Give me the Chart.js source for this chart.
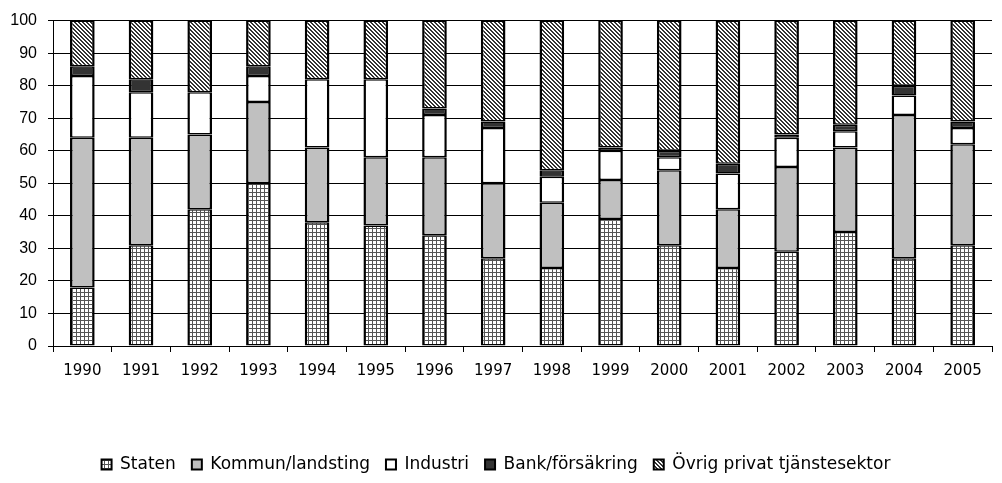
<!DOCTYPE html>
<html>
<head>
<meta charset="utf-8">
<script src="https://cdn.jsdelivr.net/npm/chart.js@4"></script>
<style>
html,body{margin:0;padding:0;background:#fff;}
#wrap{width:1002px;height:483px;position:relative;}
</style>
</head>
<body>
<div id="wrap"><canvas id="c" width="1002" height="483"></canvas></div>
<script>
const years = ['1990','1991','1992','1993','1994','1995','1996','1997','1998','1999','2000','2001','2002','2003','2004','2005'];
const seriesNames = ['Staten','Kommun/landsting','Industri','Bank/försäkring','Övrig privat tjänstesektor'];
const staten   = [18,31,42,50,38,37,34,27,24,39,31,24,29,35,27,31];
const kommun   = [46,33,23,25,23,21,24,23,20,12,23,18,26,26,44,31];
const industri = [19,14,13,8,21,24,13,17,8,9,4,11,9,5,6,5];
const bank     = [3,4,0,3,0,0,2,2,2,1,2,3,1,2,3,2];
const ovrig    = [14,18,22,14,18,18,27,31,46,39,40,44,35,32,20,31];
const yTicks   = [0,10,20,30,40,50,60,70,80,90,100];

function gridPattern(){
  const c = document.createElement('canvas'); c.width = 4; c.height = 4;
  const x = c.getContext('2d');
  x.fillStyle = '#fff'; x.fillRect(0,0,4,4);
  x.fillStyle = '#555'; x.fillRect(0,0,4,1); x.fillRect(0,0,1,4);
  return x.createPattern(c,'repeat');
}
function diagPattern(){
  const c = document.createElement('canvas'); c.width = 4; c.height = 4;
  const x = c.getContext('2d');
  x.fillStyle = '#fff'; x.fillRect(0,0,4,4);
  x.fillStyle = '#333';
  for(let i=0;i<4;i++){ for(let j=0;j<4;j++){ const d=((i-j)%4+4)%4; if(d===0||d===1) x.fillRect(i,j,1,1); } }
  return x.createPattern(c,'repeat');
}

const fills = [gridPattern(), '#c0c0c0', '#ffffff', '#333333', diagPattern()];
const values = [staten, kommun, industri, bank, ovrig];

const datasets = seriesNames.map((n,i)=>({
  label: n,
  data: values[i],
  backgroundColor: fills[i],
  borderColor: '#000',
  borderWidth: {left:2.5,right:2.5,top:1.5,bottom:1.5},
  borderSkipped: false,
  barPercentage: 0.42,
  categoryPercentage: 1.0
}));

const font = {family: '"Liberation Sans", Arial, sans-serif'};
const wideFont = {family: '"DejaVu Sans", sans-serif'};

new Chart(document.getElementById('c'), {
  type: 'bar',
  data: {labels: years, datasets},
  options: {
    responsive: false,
    animation: false,
    layout: {padding: {top: 15, right: 10, left: 0, bottom: 0}},
    plugins: {
      legend: {
        position: 'bottom',
        labels: {
          color: '#000',
          boxWidth: 10, boxHeight: 10,
          padding: 16,
          font: {...wideFont, size: 17}
        }
      },
      tooltip: {enabled: false}
    },
    scales: {
      x: {
        stacked: true,
        grid: {offset: true, drawOnChartArea: false, drawTicks: true, tickLength: 6, color: '#000'},
        border: {color: '#000', width: 1},
        ticks: {color: '#000', font: {...wideFont, size: 15}, padding: 10, maxRotation: 0},
        afterFit: s => { s.height = 94; }
      },
      y: {
        stacked: true,
        min: 0, max: 100,
        afterBuildTicks: s => { s.ticks = yTicks.map(v => ({value: v})); },
        grid: {color: '#000', lineWidth: 1, tickLength: 5, drawTicks: true},
        border: {color: '#000', width: 1},
        ticks: {color: '#000', font: {...font, size: 16}, padding: 11},
        afterFit: s => { s.width = 53; }
      }
    }
  }
});
</script>
</body>
</html>
